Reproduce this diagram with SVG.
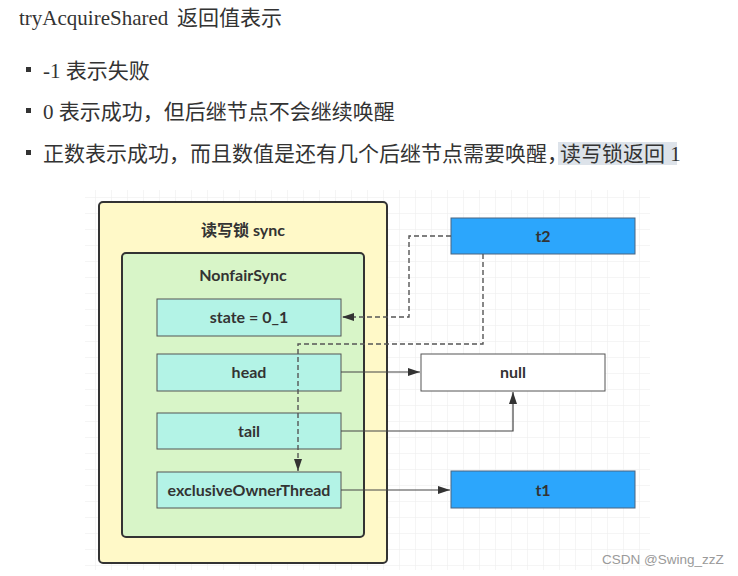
<svg xmlns="http://www.w3.org/2000/svg" width="738" height="576" viewBox="0 0 738 576">
<style>
.t{font-family:"Liberation Serif","Noto Sans CJK SC",serif;font-size:21px;fill:#333}
.lbl{font-family:Lato,"Noto Sans CJK SC",sans-serif;font-weight:bold;font-size:16px;fill:#333;text-anchor:middle;dominant-baseline:central}
.field{fill:#b3f3e6;stroke:#555;stroke-width:1}
.thread{fill:#2ca6fc;stroke:#4a6580;stroke-width:1}
.con{fill:none;stroke:#444;stroke-width:1.2}
.dash{fill:none;stroke:#555;stroke-width:1.4;stroke-dasharray:5 3}
.bul{fill:#333}
</style>
<defs>
<pattern id="grid" x="-1" y="5" width="16" height="16" patternUnits="userSpaceOnUse">
<path d="M0,0 H16 M0,0 V16" fill="none" stroke="#ebebeb" stroke-width="1"/>
</pattern>
<marker id="arr" viewBox="0 0 12 8" refX="12" refY="4" markerWidth="12" markerHeight="8" markerUnits="userSpaceOnUse" orient="auto">
<path d="M0,0 L12,4 L0,8 z" fill="#333"/>
</marker>
</defs>
<rect width="738" height="576" fill="#ffffff"/>

<g id="header">
<text class="t" x="19" y="25" font-size="20">tryAcquireShared<tspan x="177">返回值表示</tspan></text>
<rect class="bul" x="26" y="67" width="5" height="5"/>
<text class="t" x="43" y="78">-1 表示失败</text>
<rect class="bul" x="26" y="108" width="5" height="5"/>
<text class="t" x="43" y="119">0 表示成功，但后继节点不会继续唤醒</text>
<rect class="bul" x="26" y="150" width="5" height="5"/>
<rect x="558" y="142" width="119" height="23" fill="#dde3ea"/>
<text class="t" x="43" y="161">正数表示成功，而且数值是还有几个后继节点需要唤醒，</text>
<text class="t" x="560" y="161">读写锁返回 1</text>
</g>

<rect x="85" y="190" width="565" height="380" fill="url(#grid)"/>

<g id="sync">
<rect x="99" y="202" width="288" height="361" rx="4" fill="#fff9c8" stroke="#333" stroke-width="2"/>
<text class="lbl" x="243" y="229" font-size="18">读写锁 sync</text>
</g>
<g id="nonfairsync">
<rect x="122" y="253" width="242" height="284" rx="4" fill="#d8f5c8" stroke="#333" stroke-width="2"/>
<text class="lbl" x="243" y="274">NonfairSync</text>
</g>
<g id="state">
<rect class="field" x="157" y="299" width="184" height="37"/>
<text class="lbl" x="249" y="316.5">state = 0_1</text>
</g>
<g id="head">
<rect class="field" x="157" y="354" width="184" height="37"/>
<text class="lbl" x="249" y="371.5">head</text>
</g>
<g id="tail">
<rect class="field" x="157" y="413" width="184" height="36"/>
<text class="lbl" x="249" y="430">tail</text>
</g>
<g id="exclusiveOwnerThread">
<rect class="field" x="157" y="472" width="184" height="36"/>
<text class="lbl" x="249" y="489">exclusiveOwnerThread</text>
</g>
<g id="t2">
<rect class="thread" x="451" y="218" width="184" height="36"/>
<text class="lbl" x="543" y="235">t2</text>
</g>
<g id="null">
<rect x="421" y="354" width="184" height="37" fill="#ffffff" stroke="#555" stroke-width="1"/>
<text class="lbl" x="513" y="371.5">null</text>
</g>
<g id="t1">
<rect class="thread" x="451" y="471" width="184" height="37"/>
<text class="lbl" x="543" y="489">t1</text>
</g>

<g id="connectors">
<path class="dash" d="M451,236 H409 V317 H342" marker-end="url(#arr)"/>
<path class="dash" d="M483,254 V344 H298 V471" marker-end="url(#arr)"/>
<path class="con" d="M341,372 H420" marker-end="url(#arr)"/>
<path class="con" d="M341,431 H513 V392" marker-end="url(#arr)"/>
<path class="con" d="M341,490 H450" marker-end="url(#arr)"/>
</g>

<text x="602" y="564" font-family="Liberation Sans, sans-serif" font-size="13.5" fill="#9a9a9a">CSDN @Swing_zzZ</text>
</svg>
